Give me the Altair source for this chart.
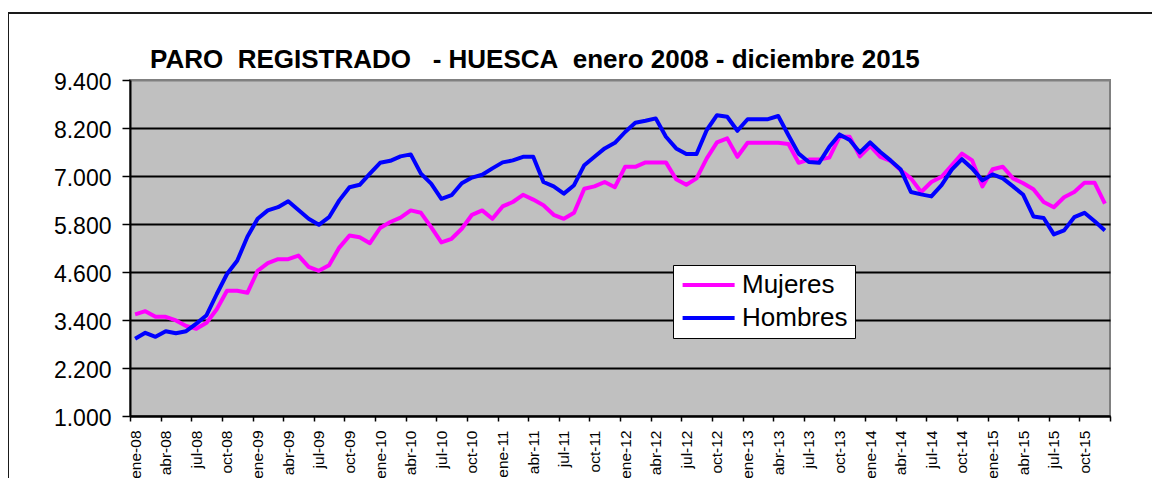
import altair as alt
import pandas as pd

# ---- data -------------------------------------------------------------
meses = ['ene', 'feb', 'mar', 'abr', 'may', 'jun', 'jul', 'ago', 'sep', 'oct', 'nov', 'dic']
anios = ['08', '09', '10', '11', '12', '13', '14', '15']
etiquetas = [f"{m}-{a}" for a in anios for m in meses]

mujeres = [3540, 3620, 3480, 3480, 3390, 3250, 3180, 3330, 3670, 4130, 4130, 4080,
           4630, 4820, 4920, 4920, 5010, 4730, 4630, 4770, 5210, 5510, 5470, 5320,
           5700, 5850, 5960, 6140, 6080, 5720, 5340, 5430, 5680, 6030, 6140, 5930,
           6240, 6350, 6530, 6410, 6270, 6030, 5930, 6080, 6680, 6740, 6850, 6720,
           7230, 7230, 7340, 7340, 7340, 6920, 6780, 6940, 7440, 7840, 7940, 7480,
           7830, 7830, 7830, 7830, 7800, 7330, 7410, 7410, 7460, 7980, 7980, 7490,
           7750, 7480, 7380, 7140, 6940, 6600, 6850, 6980, 7270, 7560, 7390, 6740,
           7170, 7230, 6940, 6820, 6670, 6350, 6220, 6470, 6600, 6830, 6830, 6310]

hombres = [2930, 3080, 2980, 3120, 3070, 3120, 3310, 3520, 4050, 4550, 4880, 5480,
           5930, 6140, 6220, 6370, 6150, 5930, 5780, 5970, 6390, 6720, 6780, 7060,
           7330, 7380, 7490, 7540, 7060, 6810, 6430, 6520, 6820, 6960, 7030, 7190,
           7340, 7390, 7480, 7480, 6850, 6740, 6560, 6770, 7270, 7480, 7690, 7830,
           8100, 8330, 8380, 8440, 7980, 7690, 7550, 7550, 8150, 8520, 8480, 8130,
           8420, 8420, 8420, 8500, 8020, 7560, 7350, 7330, 7730, 8040, 7900, 7590,
           7840, 7600, 7390, 7160, 6600, 6540, 6490, 6770, 7160, 7420, 7190, 6890,
           7040, 6940, 6740, 6530, 5990, 5950, 5540, 5640, 5970, 6080, 5870, 5640]

series = ['Mujeres', 'Hombres']
colores = ['#FF00FF', '#0000FF']
y_ticks = [1000, 2200, 3400, 4600, 5800, 7000, 8200, 9400]
titulo = "PARO\u00a0 REGISTRADO\u00a0\u00a0 - HUESCA\u00a0 enero 2008 - diciembre 2015"

rows = []
for nombre, valores in zip(series, [mujeres, hombres]):
    for i, v in enumerate(valores):
        rows.append({'serie': nombre, 'idx': i, 'pos': i + 0.5, 'mes': etiquetas[i], 'valor': v})
df = pd.DataFrame(rows)

n = len(etiquetas)
label_js = "[" + ",".join(f"'{e}'" for e in etiquetas) + "]"
x_label_expr = f"datum.value < {n} ? {label_js}[datum.value] : ''"

FONT = 'Liberation Sans'

lines = alt.Chart(df).mark_line(strokeWidth=4, strokeJoin='round').encode(
    x=alt.X('pos:Q',
            scale=alt.Scale(domain=[0, n], nice=False, zero=False),
            axis=alt.Axis(values=list(range(0, n + 1, 3)), labelExpr=x_label_expr,
                          labelAngle=-90, labelOffset=5, labelPadding=9,
                          labelFontSize=15.5, labelFont=FONT, labelColor='black',
                          labelOverlap=False, labelFlush=False, labelBound=False,
                          tickSize=5, tickWidth=1.5, tickColor='black',
                          domainColor='black', domainWidth=2, grid=False, title=None)),
    y=alt.Y('valor:Q',
            scale=alt.Scale(domain=[y_ticks[0], y_ticks[-1]], nice=False, zero=False),
            axis=alt.Axis(values=y_ticks,
                          labelExpr="replace(format(datum.value, ','), ',', '.')",
                          labelFontSize=23, labelFont=FONT, labelColor='black',
                          labelPadding=11, labelOffset=2, labelFlush=False,
                          tickSize=8, tickWidth=1.5, tickColor='black',
                          domainColor='black', domainWidth=2,
                          grid=True, gridWidth=2,
                          gridColor={"condition": {"test": f"datum.value >= {y_ticks[-1]}", "value": "#808080"},
                                     "value": "black"},
                          title=None)),
    color=alt.Color('serie:N',
                    scale=alt.Scale(domain=series, range=colores),
                    legend=alt.Legend(title=None, orient='none', legendX=543, legendY=185,
                                      direction='vertical',
                                      symbolType='M-1,0H4', symbolSize=433,
                                      symbolStrokeWidth=4, symbolOffset=0,
                                      labelFontSize=26, labelFont=FONT, labelColor='black',
                                      labelOffset=36, padding=7, rowPadding=7,
                                      fillColor='white', strokeColor='black')),
)

one = pd.DataFrame({'k': [0]})

border = alt.Chart(one).mark_rect(filled=False, stroke='#1a1a1a', strokeWidth=2).encode(
    x=alt.value(-122), x2=alt.value(1100), y=alt.value(-67), y2=alt.value(500)
)

title = alt.Chart(one).mark_text(text=titulo, align='left', baseline='alphabetic',
                                 fontSize=26, fontWeight='bold', font=FONT, color='black').encode(
    x=alt.value(20), y=alt.value(-12)
)

chart = alt.layer(border, lines, title).properties(
    width=980, height=336,
    autosize=alt.AutoSizeParams(type='none'),
    padding={'left': 122, 'top': 72, 'right': 42, 'bottom': 62},
    background='white'
).configure_view(
    fill='#C0C0C0', stroke='#808080', strokeWidth=2
)

chart.save("out.html", embed_options={"renderer": "svg", "actions": False})
